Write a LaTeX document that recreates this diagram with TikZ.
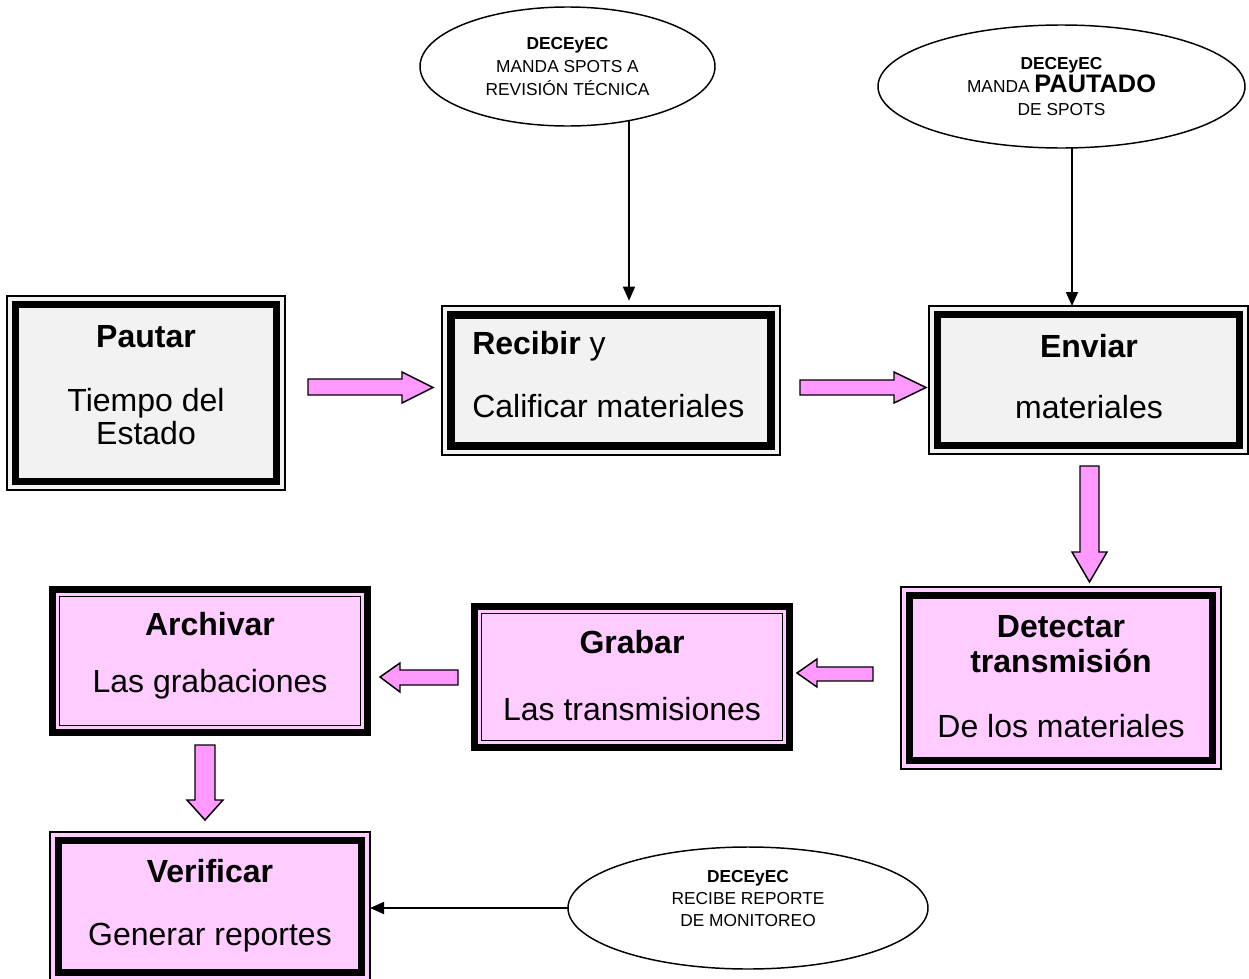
\documentclass[tikz,border=0pt]{standalone}
\usepackage{fontspec}
\setmainfont{Liberation Sans}
\usetikzlibrary{shapes.geometric,fit,arrows.meta,backgrounds}
\definecolor{boxgray}{HTML}{F2F2F2}
\definecolor{boxpink}{HTML}{FFCCFF}
\definecolor{arrpink}{HTML}{FF99FF}
\pgfdeclarelayer{bottom}
\pgfsetlayers{bottom,background,main}
\tikzset{
  outerA/.style={draw, line width=1.1pt, inner sep=0pt, outer sep=0pt},
  plainbox/.style={draw=none, inner sep=0pt, outer sep=0pt},
  band/.style={line width=5.6pt},
  thinline/.style={line width=1.1pt},
  blockarrow/.style={draw, fill=arrpink, line width=1.1pt, line join=miter},
  conn/.style={line width=1.2pt, -{Triangle[length=10.5pt,width=9pt]}},
  oval/.style={ellipse, draw, fill=white, line width=1.1pt, inner sep=0pt, align=center},
  big/.style={font=\fontsize{24}{28}\selectfont, inner sep=0pt},
  bigb/.style={font=\fontsize{24}{28}\selectfont\bfseries, inner sep=0pt},
}
\begin{document}
\begin{tikzpicture}[x=0.75pt, y=-0.75pt]
\begin{pgfonlayer}{bottom}
\fill[white] (0,0) rectangle (1249,978);
\end{pgfonlayer}
\path[use as bounding box] (0,0) rectangle (1249,978);

% ---------- style A boxes (thin outer, thick inner) ----------
\node[outerA, fill=boxgray, fit={(7,296) (285,490)}] (pautar) {};
\draw[band] ([shift={(8.5,8.5)}]pautar.north west) rectangle ([shift={(-8.5,-8.5)}]pautar.south east);
\node[outerA, fill=boxgray, fit={(442,306) (780,455)}] (recibir) {};
\draw[band] ([shift={(9,9)}]recibir.north west) rectangle ([shift={(-9,-9)}]recibir.south east);
\node[outerA, fill=boxgray, fit={(929,306) (1248,454)}] (enviar) {};
\draw[band] ([shift={(8.5,8.5)}]enviar.north west) rectangle ([shift={(-8.5,-8.5)}]enviar.south east);
\node[outerA, fill=boxpink, fit={(901,587) (1221,769)}] (detectar) {};
\draw[band] ([shift={(8.5,8.5)}]detectar.north west) rectangle ([shift={(-8.5,-8.5)}]detectar.south east);
\node[outerA, fill=boxpink, fit={(50,832) (370,981)}] (verificar) {};
\draw[band] ([shift={(8.5,8.5)}]verificar.north west) rectangle ([shift={(-8.5,-8.5)}]verificar.south east);

% ---------- style B boxes (thick outer, thin inner) ----------
\node[plainbox, fill=boxpink, fit={(49,586) (371,736)}] (archivar) {};
\draw[band] ([shift={(3.75,3.75)}]archivar.north west) rectangle ([shift={(-3.75,-3.75)}]archivar.south east);
\draw[thinline] ([shift={(10.5,10.5)}]archivar.north west) rectangle ([shift={(-10.5,-10.5)}]archivar.south east);
\node[plainbox, fill=boxpink, fit={(471,603) (793,751)}] (grabar) {};
\draw[band] ([shift={(3.75,3.75)}]grabar.north west) rectangle ([shift={(-3.75,-3.75)}]grabar.south east);
\draw[thinline] ([shift={(10.5,10.5)}]grabar.north west) rectangle ([shift={(-10.5,-10.5)}]grabar.south east);

% ---------- box texts ----------
\node[bigb, anchor=base] (t-pautar1) at (146,347) {Pautar};
\node[big, anchor=base] (t-pautar2) at (146,411) {Tiempo del};
\node[big, anchor=base] (t-pautar3) at (146,444) {Estado};
\node[big, anchor=base west] (t-recibir1) at (472,354) {\textbf{Recibir} y};
\node[big, anchor=base west] (t-recibir2) at (472,417) {Calificar materiales};
\node[bigb, anchor=base] (t-enviar1) at (1089,357) {Enviar};
\node[big, anchor=base] (t-enviar2) at (1089,418) {materiales};
\node[bigb, anchor=base] (t-detectar1) at (1061,637) {Detectar};
\node[bigb, anchor=base] (t-detectar2) at (1061,672) {transmisión};
\node[big, anchor=base] (t-detectar3) at (1061,737) {De los materiales};
\node[bigb, anchor=base] (t-archivar1) at (210,635) {Archivar};
\node[big, anchor=base] (t-archivar2) at (210,692) {Las grabaciones};
\node[bigb, anchor=base] (t-grabar1) at (632,653) {Grabar};
\node[big, anchor=base] (t-grabar2) at (632,720) {Las transmisiones};
\node[bigb, anchor=base] (t-verificar1) at (210,882) {Verificar};
\node[big, anchor=base] (t-verificar2) at (210,945) {Generar reportes};

% ---------- ellipses ----------
\node[oval, minimum width=295*0.75pt, minimum height=119*0.75pt,
      font=\fontsize{13}{17.25}\selectfont] (ell1) at (567.5,66.5)
      {\textbf{DECEyEC}\\MANDA SPOTS A\\REVISIÓN TÉCNICA};
\node[oval, minimum width=367*0.75pt, minimum height=123*0.75pt,
      font=\fontsize{13}{17.25}\selectfont] (ell2) at (1061.5,86.5)
      {\textbf{DECEyEC}\\MANDA {\fontsize{19}{20}\selectfont\bfseries PAUTADO}\\DE SPOTS};
\node[oval, minimum width=360*0.75pt, minimum height=122*0.75pt] (ell3) at (748,908) {};
\node[align=center, inner sep=0pt, font=\fontsize{13}{16.5}\selectfont] (t-ell3) at (748,899)
      {\textbf{DECEyEC}\\RECIBE REPORTE\\DE MONITOREO};

% ---------- thin connectors ----------
\coordinate (x1) at (629,0);
\coordinate (x2) at (1072,0);
\begin{pgfonlayer}{background}
\draw[conn, shorten >=4pt] (ell1.center -| x1) -- (recibir.north -| x1);
\draw[conn] (ell2.center -| x2) -- (enviar.north -| x2);
\draw[conn] (ell3.center) -- (ell3.center -| verificar.east);
\end{pgfonlayer}

% ---------- block arrows ----------
\draw[blockarrow] (308,379) -- (402,379) -- (402,372) -- (433,387.5) -- (402,403) -- (402,395) -- (308,395) -- cycle;
\draw[blockarrow] (800,380) -- (894,380) -- (894,372) -- (926,387.5) -- (894,403) -- (894,395) -- (800,395) -- cycle;
\draw[blockarrow] (1080,466) -- (1099,466) -- (1099,552) -- (1107,552) -- (1089.5,582) -- (1072,552) -- (1080,552) -- cycle;
\draw[blockarrow] (873,667) -- (817,667) -- (817,659) -- (797,673) -- (817,687) -- (817,681) -- (873,681) -- cycle;
\draw[blockarrow] (458,670) -- (400,670) -- (400,663) -- (380,677) -- (400,692) -- (400,685) -- (458,685) -- cycle;
\draw[blockarrow] (195,745) -- (215,745) -- (215,800) -- (223,800) -- (205,820) -- (187,800) -- (195,800) -- cycle;
\end{tikzpicture}
\end{document}
